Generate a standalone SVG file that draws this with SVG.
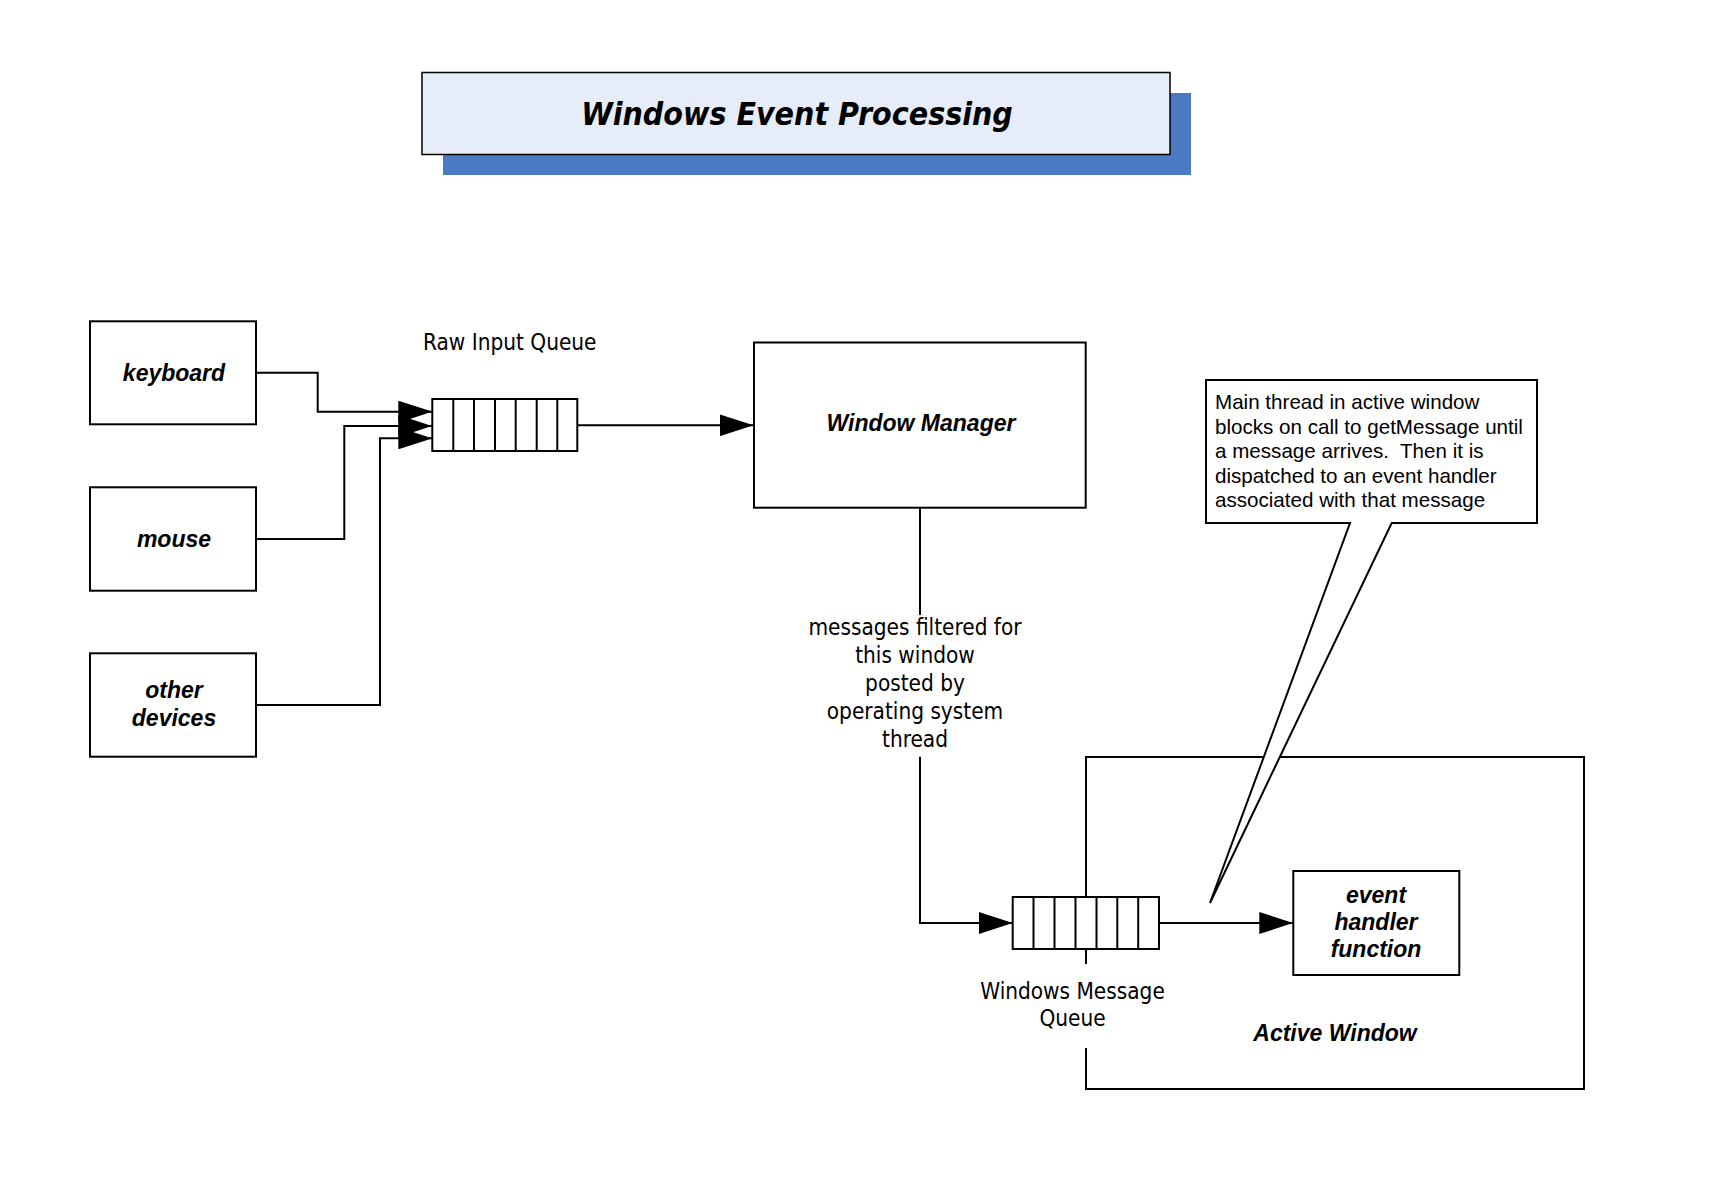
<svg xmlns="http://www.w3.org/2000/svg" width="1719" height="1192" viewBox="0 0 1719 1192">
<style>
.box{fill:#fff;stroke:#000;stroke-width:2}
.ln{fill:none;stroke:#000;stroke-width:2}
.lbl{font-family:"Liberation Sans",Arial,sans-serif;font-weight:bold;font-style:italic;font-size:23px;fill:#000;text-anchor:middle}
.reg{font-family:"DejaVu Sans Condensed","DejaVu Sans",Verdana,sans-serif;font-size:22.4px;fill:#000;text-anchor:middle}
.note{font-family:"Liberation Sans",Arial,sans-serif;font-size:20.6px;fill:#000}
</style>
<defs>
<marker id="ah" viewBox="0 0 34 22" refX="34" refY="11" markerWidth="34" markerHeight="22" markerUnits="userSpaceOnUse" orient="auto">
<path d="M0,0 L34,11 L0,22 Z" fill="#000"/>
</marker>
</defs>
<rect width="1719" height="1192" fill="#fff"/>

<g id="title">
<rect x="443" y="93" width="748" height="82" fill="#4A7AC2"/>
<rect x="422" y="72.5" width="748" height="82" fill="#E7EDF8" stroke="#000" stroke-width="1.5"/>
<text x="797" y="125" font-family="'DejaVu Sans Condensed','DejaVu Sans',sans-serif" font-weight="bold" font-style="italic" font-size="31.8" text-anchor="middle">Windows Event Processing</text>
</g>

<g id="active-window-frame">
<path class="ln" d="M1086,897 V757 H1584 V1089 H1086 V1048"/>
<path class="ln" d="M1086,949 V964"/>
<text class="lbl" x="1335" y="1041">Active Window</text>
</g>

<g id="connectors">
<path class="ln" d="M256,372.7 H317.7 V411.7 H432.3" marker-end="url(#ah)"/>
<path class="ln" d="M256,539 H344.3 V426 H432.3" marker-end="url(#ah)"/>
<path class="ln" d="M256,705 H380 V438.3 H432.3" marker-end="url(#ah)"/>
<path class="ln" d="M577.3,425.3 H753.5" marker-end="url(#ah)"/>
<path class="ln" d="M920,507.7 V615"/>
<path class="ln" d="M920,756.7 V923 H1012.7" marker-end="url(#ah)"/>
<path class="ln" d="M1159,923 H1293.3" marker-end="url(#ah)"/>
<text class="reg" x="915" y="635">messages filtered for</text>
<text class="reg" x="915" y="663">this window</text>
<text class="reg" x="915" y="691">posted by</text>
<text class="reg" x="915" y="719">operating system</text>
<text class="reg" x="915" y="746.5">thread</text>
</g>

<g id="keyboard">
<rect class="box" x="90" y="321.3" width="166" height="103"/>
<text class="lbl" x="174" y="381">keyboard</text>
</g>
<g id="mouse">
<rect class="box" x="90" y="487.3" width="166" height="103.4"/>
<text class="lbl" x="174" y="547">mouse</text>
</g>
<g id="other-devices">
<rect class="box" x="90" y="653.3" width="166" height="103.4"/>
<text class="lbl" x="174" y="698">other</text>
<text class="lbl" x="174" y="726">devices</text>
</g>

<g id="raw-input-queue">
<rect class="box" x="432.3" y="399" width="145" height="52"/>
<path class="ln" d="M453.3,399V451M474,399V451M495,399V451M515.7,399V451M536.7,399V451M557.3,399V451"/>
<text class="reg" x="423" y="349.5" style="text-anchor:start">Raw Input Queue</text>
</g>

<g id="window-manager">
<rect class="box" x="754" y="342.5" width="331.7" height="165.2"/>
<text class="lbl" x="921" y="431">Window Manager</text>
</g>

<g id="windows-message-queue">
<rect class="box" x="1012.7" y="897" width="146.3" height="52"/>
<path class="ln" d="M1033.5,897V949M1054.5,897V949M1075.5,897V949M1096.5,897V949M1117.3,897V949M1138.2,897V949"/>
<text class="reg" x="1072.5" y="999">Windows Message</text>
<text class="reg" x="1072.5" y="1026">Queue</text>
</g>

<g id="event-handler">
<rect class="box" x="1293.3" y="871" width="166" height="104"/>
<text class="lbl" x="1376" y="903">event</text>
<text class="lbl" x="1376" y="930">handler</text>
<text class="lbl" x="1376" y="957">function</text>
</g>

<g id="callout">
<path class="box" d="M1206,380 H1537 V523 H1391.7 L1210,903 L1350,523 H1206 Z"/>
<text class="note" x="1215" y="409">Main thread in active window</text>
<text class="note" x="1215" y="433.5">blocks on call to getMessage until</text>
<text class="note" x="1215" y="458" xml:space="preserve">a message arrives.  Then it is</text>
<text class="note" x="1215" y="482.5">dispatched to an event handler</text>
<text class="note" x="1215" y="507">associated with that message</text>
</g>
</svg>
